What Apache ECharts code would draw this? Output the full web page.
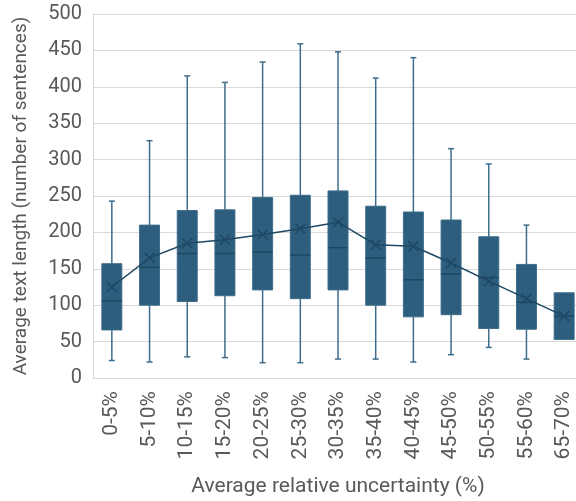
<!DOCTYPE html>
<html><head><meta charset="utf-8">
<script src="https://cdn.jsdelivr.net/npm/echarts@6/dist/echarts.min.js"></script>
<style>html,body{margin:0;padding:0;background:#fff}#c{width:576px;height:501px}</style>
</head><body><div id="c"></div>
<script>
const categories = ['0-5%','5-10%','10-15%','15-20%','20-25%','25-30%','30-35%','35-40%','40-45%','45-50%','50-55%','55-60%','65-70%'];
const whiskerMin = [24, 22, 29, 28, 21, 21, 26, 26, 22, 32, 42, 26, 53];
const q1Values   = [66, 100, 105, 113, 121, 109, 121, 100, 84, 87, 68, 67, 53];
const medians    = [106, 152, 171, 171, 173, 169, 179, 165, 135, 143, 138, 104, 85];
const q3Values   = [157, 210, 230, 231, 248, 251, 257, 236, 228, 217, 194, 156, 117];
const whiskerMax = [243, 326, 415, 406, 434, 459, 448, 412, 440, 315, 294, 210, 117];
const means      = [125, 165, 185, 190, 197, 205, 214, 183, 181, 158, 133, 109, 85];
const yTicks = [0, 50, 100, 150, 200, 250, 300, 350, 400, 450, 500];

const FONT = 'Roboto';
const boxFill = '#2d5e7e';
const boxEdge = '#3f6d8c';
const darkLine = '#1f4864';

const boxData = categories.map((c, i) => [i, whiskerMin[i], q1Values[i], medians[i], q3Values[i], whiskerMax[i], means[i]]);

const chart = echarts.init(document.getElementById('c'), null, {renderer: 'canvas'});
chart.setOption({
  animation: false,
  grid: {left: 93, right: -7, top: 14, bottom: 123, containLabel: false, outerBoundsMode: 'none'},
  xAxis: {
    type: 'category', data: categories,
    name: 'Average relative uncertainty (%)', nameLocation: 'middle', nameGap: 98,
    nameTextStyle: {color: '#595959', fontSize: 21, fontFamily: FONT},
    axisLine: {show: true, lineStyle: {color: '#d9d9d9', width: 1}},
    axisTick: {show: false},
    axisLabel: {rotate: 90, color: '#595959', fontSize: 21, fontFamily: FONT, margin: 13, interval: 0},
    splitLine: {show: false}
  },
  yAxis: {
    type: 'value', min: yTicks[0], max: yTicks[yTicks.length - 1], interval: 50,
    name: 'Average text length (number of sentences)', nameLocation: 'middle', nameGap: 62,
    nameTextStyle: {color: '#595959', fontSize: 19, fontFamily: FONT},
    axisLine: {show: true, lineStyle: {color: '#d9d9d9', width: 1}},
    axisTick: {show: false},
    axisLabel: {color: '#595959', fontSize: 20, fontFamily: FONT, margin: 11},
    splitLine: {lineStyle: {color: '#d9d9d9', width: 1}}
  },
  series: [
    {
      type: 'custom',
      data: boxData,
      encode: {x: 0, y: [1, 2, 3, 4, 5]},
      z: 2,
      renderItem: function (params, api) {
        const i = api.value(0);
        const pMin = api.coord([i, api.value(1)]);
        const pQ1 = api.coord([i, api.value(2)]);
        const pMed = api.coord([i, api.value(3)]);
        const pQ3 = api.coord([i, api.value(4)]);
        const pMax = api.coord([i, api.value(5)]);
        const band = api.size([1, 0])[0];
        const bw = band * 0.53;
        const cap = 6;
        const x = pQ1[0];
        const children = [];
        if (pMin[1] - pQ1[1] > 0.5) {
          children.push({type: 'line', shape: {x1: x, y1: pQ1[1], x2: x, y2: pMin[1]}, style: {stroke: boxEdge, lineWidth: 1.5}});
          children.push({type: 'line', shape: {x1: x - cap / 2, y1: pMin[1], x2: x + cap / 2, y2: pMin[1]}, style: {stroke: boxEdge, lineWidth: 1.5}});
        }
        if (pQ3[1] - pMax[1] > 0.5) {
          children.push({type: 'line', shape: {x1: x, y1: pQ3[1], x2: x, y2: pMax[1]}, style: {stroke: boxEdge, lineWidth: 1.5}});
          children.push({type: 'line', shape: {x1: x - cap / 2, y1: pMax[1], x2: x + cap / 2, y2: pMax[1]}, style: {stroke: boxEdge, lineWidth: 1.5}});
        }
        children.push({type: 'rect', shape: {x: x - bw / 2, y: pQ3[1], width: bw, height: pQ1[1] - pQ3[1]}, style: {fill: boxFill, stroke: boxEdge, lineWidth: 1}});
        children.push({type: 'line', shape: {x1: x - bw / 2, y1: pMed[1], x2: x + bw / 2, y2: pMed[1]}, style: {stroke: darkLine, lineWidth: 1.5}});
        return {type: 'group', children: children};
      }
    },
    {
      type: 'line',
      data: means,
      z: 3,
      symbol: 'path://M0,0L10,10M10,0L0,10',
      symbolSize: 10,
      itemStyle: {color: 'rgba(0,0,0,0)', borderColor: darkLine, borderWidth: 1.5},
      lineStyle: {color: darkLine, width: 1.5}
    }
  ]
});
</script></body></html>
